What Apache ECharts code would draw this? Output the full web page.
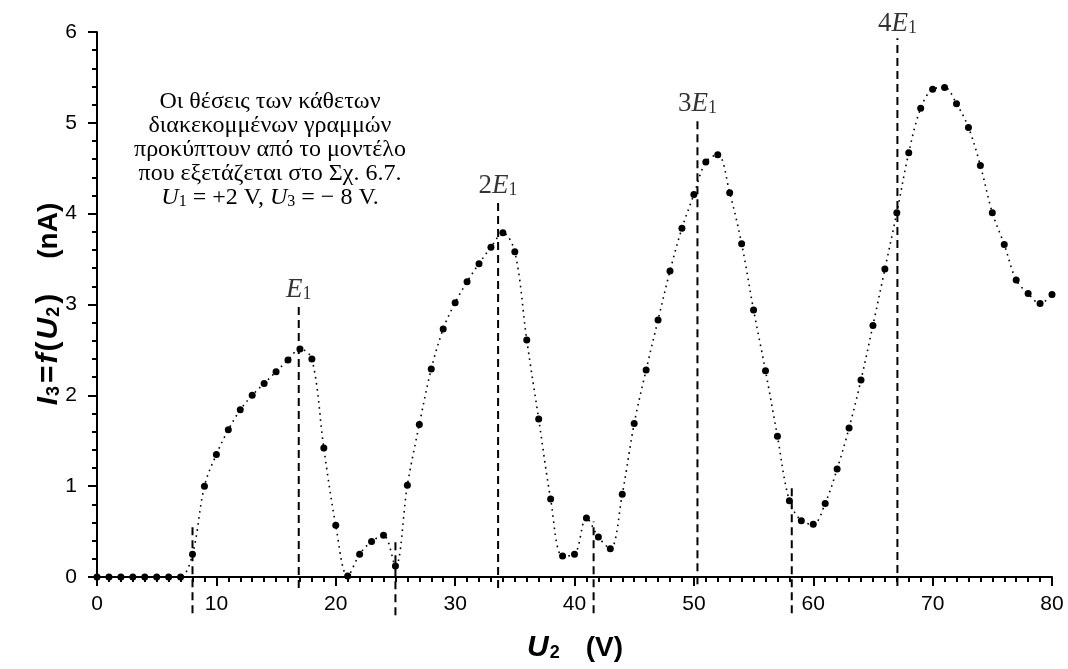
<!DOCTYPE html>
<html>
<head>
<meta charset="utf-8">
<title>I3 = f(U2)</title>
<script src="https://cdn.jsdelivr.net/npm/echarts@6/dist/echarts.min.js"></script>
<style>
  html, body { margin: 0; padding: 0; background: #fff; }
  #chart { width: 1068px; height: 669px; }
</style>
</head>
<body>
<div id="chart"></div>
<script>
// U2 (V)
var u2 = [0, 1, 2, 3, 4, 5, 6, 7, 8, 9, 10, 11, 12, 13, 14, 15, 16, 17, 18, 19, 20,
  21, 22, 23, 24, 25, 26, 27, 28, 29, 30, 31, 32, 33, 34, 35, 36, 37, 38, 39, 40,
  41, 42, 43, 44, 45, 46, 47, 48, 49, 50, 51, 52, 53, 54, 55, 56, 57, 58, 59, 60,
  61, 62, 63, 64, 65, 66, 67, 68, 69, 70, 71, 72, 73, 74, 75, 76, 77, 78, 79, 80];
// I3 (nA)
var i3 = [0, 0, 0, 0, 0, 0, 0, 0, 0.25, 1.00, 1.35, 1.62, 1.84, 2.00, 2.13, 2.26, 2.39, 2.51, 2.40, 1.42, 0.57,
  0.01, 0.25, 0.39, 0.46, 0.12, 1.01, 1.68, 2.29, 2.73, 3.02, 3.25, 3.45, 3.63, 3.79, 3.58, 2.61, 1.74, 0.86, 0.23, 0.25,
  0.65, 0.44, 0.31, 0.91, 1.69, 2.28, 2.83, 3.37, 3.84, 4.21, 4.57, 4.65, 4.23, 3.67, 2.94, 2.27, 1.55, 0.84, 0.62, 0.58,
  0.81, 1.19, 1.64, 2.17, 2.77, 3.39, 4.01, 4.67, 5.16, 5.37, 5.39, 5.21, 4.95, 4.53, 4.01, 3.66, 3.27, 3.12, 3.01, 3.11];

// vertical dashed lines (model positions)
var dashU = [8, 16.9, 25, 33.6, 41.6, 50.3, 58.2, 67.05];
var dashTop = [0.57, 3.0, 0.43, 4.15, 0.61, 5.05, 1.03, 5.93];
var dashBottom = [-0.4, -0.12, -0.42, -0.12, -0.4, -0.08, -0.4, -0.1];
// which dashed lines carry an nE1 label, and the multiplier
var peakIdx = [1, 3, 5, 7];
var peakMult = ['', '2', '3', '4'];

var noteLines = [
  'Οι θέσεις των κάθετων',
  'διακεκομμένων γραμμών',
  'προκύπτουν από το μοντέλο',
  'που εξετάζεται στο Σχ. 6.7.',
  '{i|U}{s|1} = +2 V, {i|U}{s|3} = − 8 V.'
];

var serif = '"Liberation Serif", "Times New Roman", serif';
var sans = '"Liberation Sans", Arial, sans-serif';

var myChart = echarts.init(document.getElementById('chart'));

var series = [];
series.push({
  type: 'line',
  data: u2.map(function (u, k) { return [u, i3[k]]; }),
  smooth: 0.35,
  symbol: 'circle',
  symbolSize: 7,
  showAllSymbol: true,
  clip: false,
  z: 5,
  itemStyle: { color: '#000' },
  lineStyle: { color: '#000', width: 1.6, type: [1.6, 4.5] }
});
dashU.forEach(function (u, k) {
  series.push({
    type: 'line',
    data: [[u, dashBottom[k]], [u, dashTop[k]]],
    symbol: 'none',
    clip: false,
    silent: true,
    z: 3,
    lineStyle: { color: '#000', width: 2, type: [8, 5] }
  });
});
series.push({
  type: 'scatter',
  symbolSize: 0,
  clip: false,
  silent: true,
  data: peakIdx.map(function (j) { return [dashU[j], dashTop[j]]; }),
  label: {
    show: true,
    position: 'top',
    distance: 1,
    color: '#000',
    formatter: function (p) {
      var m = peakMult[p.dataIndex];
      return (m ? '{n|' + m + '}' : '') + '{e|E}{s|1}';
    },
    rich: {
      n: { fontFamily: serif, fontSize: 27, color: '#000' },
      e: { fontFamily: serif, fontSize: 27, fontStyle: 'italic', color: '#000' },
      s: { fontFamily: serif, fontSize: 18, color: '#000', padding: [9, 0, 0, 0] }
    }
  }
});

var noteY = [102, 126, 150, 174, 198];

var nameRich = {
  i: { fontFamily: sans, fontSize: 30, fontWeight: 'bold', fontStyle: 'italic', color: '#000', padding: [0, 1, 0, 1] },
  s: { fontFamily: sans, fontSize: 18, fontWeight: 'bold', color: '#000', padding: [11, 2, 0, 0] },
  r: { fontFamily: sans, fontSize: 30, fontWeight: 'bold', color: '#000', padding: [0, 1, 0, 1] },
  g: { fontFamily: sans, fontSize: 28, fontWeight: 'bold', color: '#000', padding: [0, 0, 0, 24] },
  gy: { fontFamily: sans, fontSize: 28, fontWeight: 'bold', color: '#000', padding: [0, 0, 0, 34] }
};

var option = {
  animation: false,
  backgroundColor: '#fff',
  grid: { left: 97, right: 16, top: 32, bottom: 92, outerBoundsMode: 'none' },
  xAxis: {
    type: 'value',
    min: 0,
    max: 80,
    interval: 10,
    name: '{i|U}{s|2}{g|(V)}',
    nameLocation: 'middle',
    nameGap: 56,
    nameTextStyle: { rich: nameRich },
    axisLine: { onZero: false, lineStyle: { color: '#000', width: 2 } },
    axisTick: { length: 9, lineStyle: { color: '#000', width: 2 } },
    minorTick: { show: true, splitNumber: 10, length: 5, lineStyle: { color: '#000', width: 2 } },
    splitLine: { show: false },
    axisLabel: { color: '#000', fontFamily: sans, fontSize: 21, margin: 17 }
  },
  yAxis: {
    type: 'value',
    min: 0,
    max: 6,
    interval: 1,
    name: '{i|I}{s|3}{r|=}{i|f}{r|(}{i|U}{s|2}{r|)}{gy|(nA)}',
    nameLocation: 'middle',
    nameRotate: 90,
    nameGap: 33,
    nameMoveOverlap: false,
    nameTextStyle: { rich: nameRich },
    axisLine: { show: true, onZero: false, lineStyle: { color: '#000', width: 2 } },
    axisTick: { show: true, length: 9, lineStyle: { color: '#000', width: 2 } },
    minorTick: { show: true, splitNumber: 5, length: 5, lineStyle: { color: '#000', width: 2 } },
    splitLine: { show: false },
    axisLabel: { color: '#000', fontFamily: sans, fontSize: 21, margin: 20 }
  },
  graphic: noteLines.map(function (t, k) {
    return {
      type: 'text',
      x: 270,
      y: noteY[k],
      silent: true,
      style: {
        text: t,
        font: '24px ' + serif,
        fill: '#000',
        align: 'center',
        verticalAlign: 'middle',
        rich: {
          i: { fontFamily: serif, fontSize: 24, fontStyle: 'italic', color: '#000' },
          s: { fontFamily: serif, fontSize: 16, color: '#000', padding: [8, 0, 0, 0] }
        }
      }
    };
  }),
  series: series
};

myChart.setOption(option);
</script>
</body>
</html>
